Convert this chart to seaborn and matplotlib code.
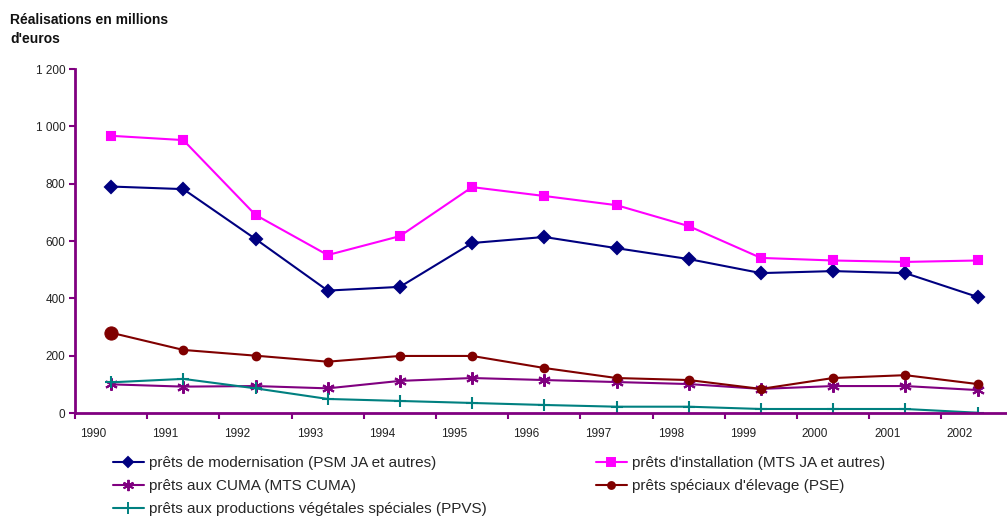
import numpy as np
import pandas as pd
import matplotlib
matplotlib.use("Agg")
import matplotlib.pyplot as plt
import seaborn as sns
from matplotlib.lines import Line2D

sns.set_style("white")
plt.rcParams['font.family'] = ['Liberation Sans', 'DejaVu Sans']

years = ["1990", "1991", "1992", "1993", "1994", "1995", "1996",
         "1997", "1998", "1999", "2000", "2001", "2002"]
psm = [790, 781, 607, 427, 440, 593, 614, 575, 537, 488, 495, 488, 405]
mts = [967, 952, 691, 551, 617, 788, 757, 725, 652, 541, 532, 527, 532]
cuma = [100, 92, 94, 86, 112, 122, 115, 108, 101, 84, 94, 94, 80]
pse = [280, 220, 200, 179, 199, 199, 157, 122, 115, 84, 122, 132, 101]
ppvs = [107, 119, 86, 49, 42, 35, 28, 22, 22, 14, 14, 14, 1]

labels = ["prêts de modernisation (PSM JA et autres)",
          "prêts aux CUMA (MTS CUMA)",
          "prêts aux productions végétales spéciales (PPVS)",
          "prêts d'installation (MTS JA et autres)",
          "prêts spéciaux d'élevage (PSE)"]
yticks = [0, 200, 400, 600, 800, 1000, 1200]
ytick_labels = ["0", "200", "400", "600", "800", "1 000", "1 200"]

W, H = 1007, 516
fig = plt.figure(figsize=(W / 100, H / 100), dpi=100)
ax = fig.add_axes([75 / W, 103 / H, 13 * 72.2 / W, 344 / H])

pos = np.arange(len(years)) + 0.5
axis_col = "#800080"

styles = [
    (psm, "#000080", "D", 6, "#000080"),
    (cuma, "#800080", (6, 2, 0), 9, "#800080"),
    (ppvs, "#008080", "+", 9, "#008080"),
    (mts, "#FF00FF", "s", 6, "#FF00FF"),
    (pse, "#800000", "o", 5.5, "#800000"),
]
handles = []
for (vals, col, mk, ms, fc), lab in zip(styles, labels):
    df = pd.DataFrame({"x": pos, "y": vals})
    sns.lineplot(data=df, x="x", y="y", ax=ax, color=col, linewidth=1.5,
                 marker=mk, markersize=ms, markerfacecolor=fc,
                 markeredgecolor=col, markeredgewidth=1.5, legend=False)
    handles.append(Line2D([0], [0], color=col, lw=1.5, marker=mk,
                          markersize=ms * 0.9, markerfacecolor=fc,
                          markeredgecolor=col, markeredgewidth=1.4))

# first PSE point drawn larger, as in the source
sns.scatterplot(x=pos[:1], y=pse[:1], ax=ax, color="#800000", s=90,
                edgecolor="#800000", legend=False)

ax.set_xlim(0, 13)
ax.set_ylim(0, 1200)
ax.set_xlabel("")
ax.set_ylabel("")
for s in ["top", "right"]:
    ax.spines[s].set_visible(False)
for s in ["left", "bottom"]:
    ax.spines[s].set_color(axis_col)
    ax.spines[s].set_linewidth(2)

ax.set_yticks(yticks, labels=ytick_labels)
ax.set_xticks(range(14), labels=[""] * 14)
ax.set_xticks(np.arange(13) + 0.25, labels=years, minor=True)
ax.tick_params(axis="y", which="major", direction="out", length=4, width=1.5,
               color=axis_col, labelsize=8.5, pad=3, left=True,
               labelcolor="#222222")
ax.tick_params(axis="x", which="major", direction="out", length=4, width=1.5,
               color=axis_col, bottom=True)
ax.tick_params(axis="x", which="minor", length=0, labelsize=8.5, pad=11,
               labelcolor="#222222")

fig.text(10 / W, 1 - 13 / H, "Réalisations en millions\nd'euros",
         fontsize=10, fontweight="bold", va="top", ha="left", linespacing=1.45,
         color="#111111")

kw = dict(loc="upper left", frameon=False, fontsize=11, handlelength=2.0,
          handletextpad=0.35, labelspacing=0.6, borderaxespad=0, borderpad=0)
leg1 = fig.legend(handles[:3], labels[:3],
                  bbox_to_anchor=(113 / W, 1 - 456 / H), **kw)
leg2 = fig.legend(handles[3:], labels[3:],
                  bbox_to_anchor=(596 / W, 1 - 456 / H), **kw)

fig.savefig("out.png", dpi=100)
